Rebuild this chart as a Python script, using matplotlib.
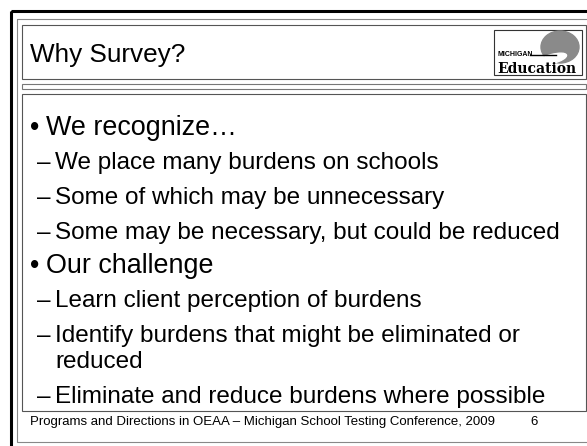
import matplotlib
matplotlib.use('Agg')
import matplotlib.pyplot as plt
from matplotlib.patches import Rectangle, Ellipse

# slide content
title = 'Why Survey?'
items = [
    (1, 'We recognize…'),
    (2, 'We place many burdens on schools'),
    (2, 'Some of which may be unnecessary'),
    (2, 'Some may be necessary, but could be reduced'),
    (1, 'Our challenge'),
    (2, 'Learn client perception of burdens'),
    (2, 'Identify burdens that might be eliminated or'),
    (3, 'reduced'),
    (2, 'Eliminate and reduce burdens where possible'),
]
footer = 'Programs and Directions in OEAA – Michigan School Testing Conference, 2009'
page_no = '6'

W, H = 587, 446
plt.rcParams['font.family'] = ['Liberation Sans', 'DejaVu Sans']

fig = plt.figure(figsize=(W / 100, H / 100), dpi=100)
ax = fig.add_axes([0, 0, 1, 1])
ax.set_xlim(0, W)
ax.set_ylim(H, 0)
ax.axis('off')

# frames
ax.add_patch(Rectangle((11, 11), 600, 460, fill=False, ec='black', lw=2.2))
ax.add_patch(Rectangle((17, 19), 600, 423, fill=False, ec='#888888', lw=0.8))
ax.add_patch(Rectangle((22, 25), 564, 54, fill=False, ec='#555555', lw=0.8))
ax.add_patch(Rectangle((22, 84), 564, 5, fill=False, ec='#777777', lw=0.8))
ax.add_patch(Rectangle((22, 94), 564, 317, fill=False, ec='#555555', lw=0.8))

# logo
ax.add_patch(Rectangle((494, 30), 88, 45, fill=False, ec='#333333', lw=0.8))
ax.add_patch(Ellipse((560, 47), 38, 32, color='#8a8a8a'))
ax.add_patch(Ellipse((552, 59), 30, 9, angle=-15, color='white'))
ax.plot([530, 556], [55, 55], color='black', lw=1)
ax.text(497, 56, 'MICHIGAN', fontsize=5, fontweight='bold', va='baseline')
ax.text(497, 73, 'Education', fontsize=10, fontweight='bold',
        family='DejaVu Serif', va='baseline')

ax.text(30, 62, title, fontsize=18.8, va='baseline')

# bullets
y = 135
for level, txt in items:
    if level == 1:
        ax.text(30, y, '•', fontsize=19.4, va='baseline')
        ax.text(46, y, txt, fontsize=19.4, va='baseline')
        y += 34.5
    elif level == 2:
        ax.text(37, y, '–', fontsize=17.5, va='baseline')
        ax.text(55, y, txt, fontsize=17.5, va='baseline')
        y += 34.5
    if level == 3:
        ax.text(55, y - 8.5, txt, fontsize=17.5, va='baseline')
        y += 26

ax.text(30, 425, footer, fontsize=9.5, va='baseline')
ax.text(530, 425, page_no, fontsize=9.5, va='baseline')

fig.savefig('out.png', dpi=100)
